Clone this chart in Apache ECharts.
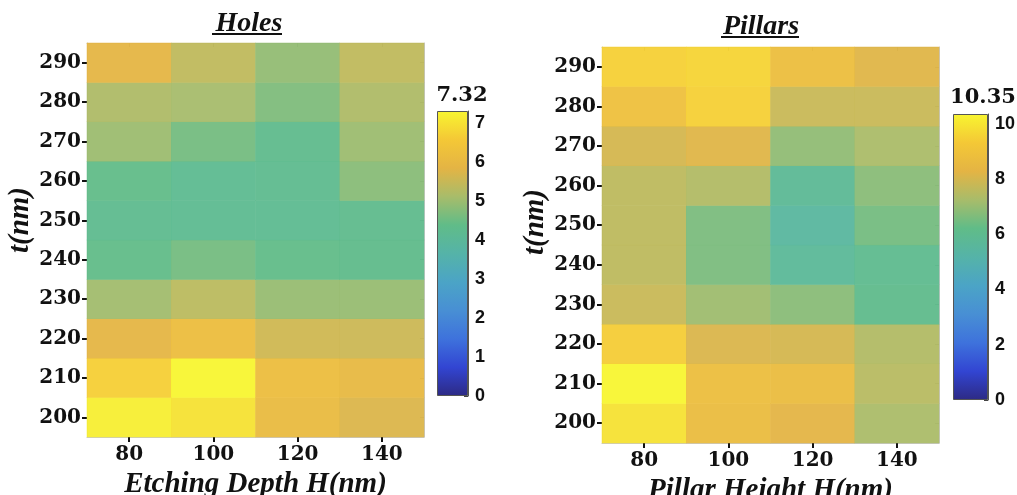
<!DOCTYPE html>
<html>
<head>
<meta charset="utf-8">
<script src="https://cdn.jsdelivr.net/npm/echarts@6/dist/echarts.min.js"></script>
<style>html,body{margin:0;padding:0;background:#fff}#c{width:1017px;height:495px}</style>
</head>
<body>
<div id="c"></div>
<script>
// ---- data ----
const xCats = ['80', '100', '120', '140'];
const yCats = ['200', '210', '220', '230', '240', '250', '260', '270', '280', '290'];
// rows: t = 200 ... 290 ; columns: H = 80, 100, 120, 140
const holes = [
  [7.20, 7.00, 6.10, 5.75],
  [6.70, 7.32, 6.20, 6.00],
  [5.90, 6.20, 5.60, 5.55],
  [5.05, 5.35, 4.95, 4.95],
  [4.40, 4.60, 4.40, 4.35],
  [4.25, 4.20, 4.20, 4.30],
  [4.40, 4.20, 4.25, 4.80],
  [5.00, 4.60, 4.30, 5.00],
  [5.20, 5.10, 4.70, 5.20],
  [5.90, 5.40, 4.90, 5.40]
];
const pillars = [
  [9.90, 8.70, 8.30, 7.30],
  [10.35, 8.80, 8.70, 7.50],
  [9.40, 8.10, 8.00, 7.40],
  [7.80, 7.10, 6.80, 6.10],
  [7.60, 6.60, 5.70, 6.00],
  [7.60, 6.60, 5.50, 6.50],
  [7.60, 7.40, 5.80, 6.80],
  [8.00, 8.20, 6.90, 7.30],
  [8.90, 9.50, 7.80, 7.80],
  [9.50, 9.60, 8.80, 8.20]
];
const holesMax = 7.32;
const pillarsMax = 10.35;
const holesTicks = [0, 1, 2, 3, 4, 5, 6, 7];
const pillarsTicks = [0, 2, 4, 6, 8, 10];
const titles = ['Holes', 'Pillars'];
const xNames = ['Etching Depth H(nm)', 'Pillar Height H(nm)'];
const yName = 't(nm)';

// parula-like colormap (evenly spaced)
const parula = ['#2D2A84', '#3245D2', '#3E72DC', '#488FD4', '#4BA4C6', '#55B3A8',
                '#60BC88', '#A8BC6A', '#E4B444', '#F4C836', '#F8F530'];

function toData(m) {
  const out = [];
  m.forEach((row, yi) => row.forEach((v, xi) => out.push([xi, yi, v])));
  return out;
}
const gradStops = parula.map((c, i) => ({ offset: i / (parula.length - 1), color: c }));

const serif = 'DejaVu Serif';
const titleFont = 'Liberation Serif';

const chart = echarts.init(document.getElementById('c'), null, { renderer: 'canvas' });

const grids = [
  { left: 87, top: 43, width: 337, height: 394, outerBoundsMode: 'none', containLabel: false },
  { left: 602, top: 47, width: 337, height: 396, outerBoundsMode: 'none', containLabel: false },
  { left: 437, top: 111, width: 31, height: 285, outerBoundsMode: 'none', containLabel: false },
  { left: 953, top: 114, width: 35, height: 286, outerBoundsMode: 'none', containLabel: false }
];

function mainX(gi, name) {
  return [{
    type: 'category', gridIndex: gi, data: xCats, position: 'bottom',
    axisLine: { show: true, lineStyle: { color: '#c8c8c8', width: 1 } },
    axisTick: { show: true, alignWithLabel: true, inside: false, length: 5, lineStyle: { color: '#111', width: 2 } },
    axisLabel: { margin: 8, color: '#111', fontFamily: serif, fontWeight: 'bold', fontSize: 20 },
    splitLine: { show: false },
    name: name, nameLocation: 'middle', nameGap: 25,
    nameTextStyle: { fontFamily: titleFont, fontStyle: 'italic', fontWeight: 'bold', fontSize: 29, color: '#111' }
  }, {
    type: 'category', gridIndex: gi, data: xCats, position: 'top',
    axisLine: { show: true, lineStyle: { color: '#c8c8c8', width: 1 } },
    axisTick: { show: true, alignWithLabel: true, inside: true, length: 4, lineStyle: { color: '#888', width: 1 } },
    axisLabel: { show: false }
  }];
}
function mainY(gi, shift) {
  return [{
    type: 'category', gridIndex: gi, data: yCats, position: 'left',
    axisLine: { show: true, lineStyle: { color: '#c8c8c8', width: 1 } },
    axisTick: { show: true, alignWithLabel: true, inside: false, length: 5, lineStyle: { color: '#111', width: 2 } },
    axisLabel: { margin: 6, color: '#111', fontFamily: serif, fontWeight: 'bold', fontSize: 20 },
    name: yName, nameLocation: 'middle', nameGap: 52, nameRotate: 90,
    nameTextStyle: { fontFamily: titleFont, fontStyle: 'italic', fontWeight: 'bold', fontSize: 29, color: '#111',
      padding: [0, 0, 0, shift] }
  }, {
    type: 'category', gridIndex: gi, data: yCats, position: 'right',
    axisLine: { show: true, lineStyle: { color: '#c8c8c8', width: 1 } },
    axisTick: { show: true, alignWithLabel: true, inside: true, length: 4, lineStyle: { color: '#888', width: 1 } },
    axisLabel: { show: false }
  }];
}
function cbX(gi) {
  return { type: 'category', gridIndex: gi, data: [''], show: false };
}
function cbY(gi, max, ticks) {
  return {
    type: 'value', gridIndex: gi, min: 0, max: max, position: 'right',
    axisLine: { show: true, lineStyle: { color: '#555', width: 1 } },
    axisTick: { show: true, inside: true, length: 4, customValues: ticks, lineStyle: { color: '#444', width: 1 } },
    axisLabel: { show: true, customValues: ticks, margin: 7, color: '#111', fontFamily: 'Liberation Sans', fontWeight: 'bold', fontSize: 18 },
    splitLine: { show: false }
  };
}

const option = {
  animation: false,
  backgroundColor: '#fff',
  title: [
    { text: titles[0], left: 244, top: 5, textAlign: 'center',
      textStyle: { fontFamily: titleFont, fontStyle: 'italic', fontWeight: 'bold', fontSize: 28, color: '#111' } },
    { text: titles[1], left: 756, top: 8, textAlign: 'center',
      textStyle: { fontFamily: titleFont, fontStyle: 'italic', fontWeight: 'bold', fontSize: 28, color: '#111' } },
    { text: holesMax.toFixed(2), left: 457, top: 80, textAlign: 'center',
      textStyle: { fontFamily: serif, fontWeight: 'bold', fontSize: 21, color: '#111' } },
    { text: pillarsMax.toFixed(2), left: 978, top: 82, textAlign: 'center',
      textStyle: { fontFamily: serif, fontWeight: 'bold', fontSize: 21, color: '#111' } }
  ],
  graphic: [
    { type: 'line', shape: { x1: 212, y1: 34, x2: 282, y2: 34 }, style: { stroke: '#111', lineWidth: 2 } },
    { type: 'line', shape: { x1: 721, y1: 37, x2: 799, y2: 37 }, style: { stroke: '#111', lineWidth: 2 } }
  ],
  grid: grids,
  xAxis: [...mainX(0, xNames[0]), ...mainX(1, xNames[1]), cbX(2), cbX(3)],
  yAxis: [...mainY(0, 40), ...mainY(1, 46), cbY(2, holesMax, holesTicks), cbY(3, pillarsMax, pillarsTicks)],
  visualMap: [
    { type: 'continuous', show: false, seriesIndex: 0, min: 0, max: holesMax, inRange: { color: parula } },
    { type: 'continuous', show: false, seriesIndex: 1, min: 0, max: pillarsMax, inRange: { color: parula } }
  ],
  series: [
    { type: 'heatmap', xAxisIndex: 0, yAxisIndex: 0, data: toData(holes), itemStyle: { opacity: 0.95 } },
    { type: 'heatmap', xAxisIndex: 2, yAxisIndex: 2, data: toData(pillars), itemStyle: { opacity: 0.95 } },
    { type: 'bar', xAxisIndex: 4, yAxisIndex: 4, data: [holesMax], barWidth: '100%',
      itemStyle: { color: new echarts.graphic.LinearGradient(0, 1, 0, 0, gradStops), borderColor: '#555', borderWidth: 1 } },
    { type: 'bar', xAxisIndex: 5, yAxisIndex: 5, data: [pillarsMax], barWidth: '100%',
      itemStyle: { color: new echarts.graphic.LinearGradient(0, 1, 0, 0, gradStops), borderColor: '#555', borderWidth: 1 } }
  ]
};
chart.setOption(option);
</script>
</body>
</html>
